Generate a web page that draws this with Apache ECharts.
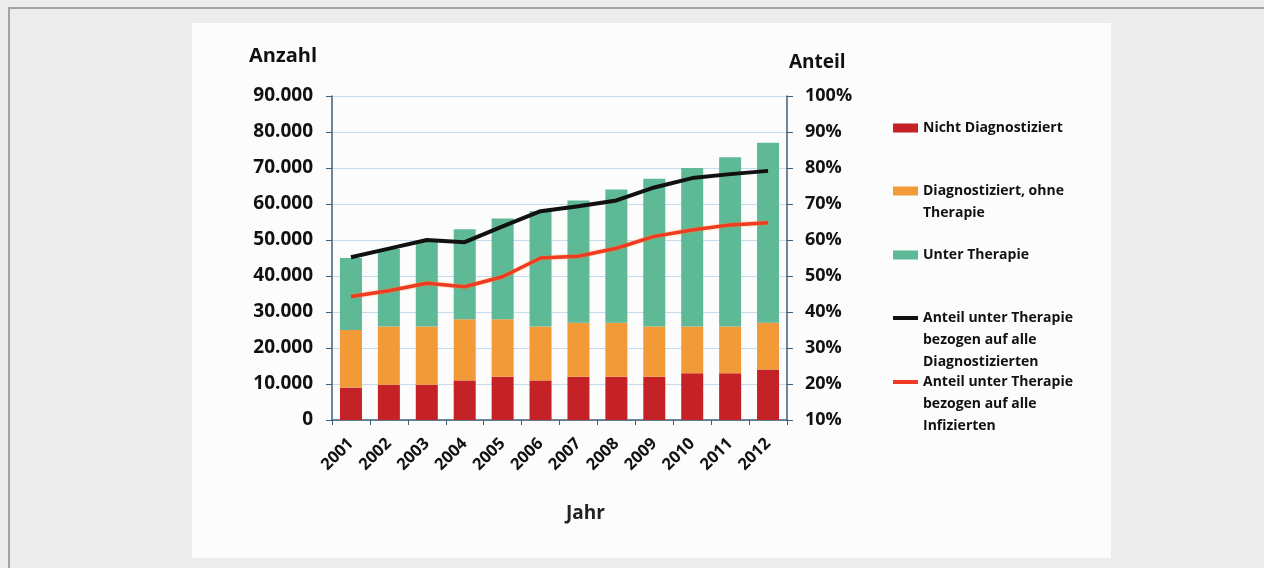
<!DOCTYPE html>
<html>
<head>
<meta charset="utf-8">
<script src="https://cdn.jsdelivr.net/npm/echarts@6/dist/echarts.min.js"></script>
<style>
  html, body { margin: 0; padding: 0; background: #ececec; }
  #frame { position: absolute; left: 8px; top: 7px; width: 1260px; height: 562px;
           border-left: 2px solid #a3a3a3; border-top: 2px solid #a3a3a3; }
  #main { position: absolute; left: 0; top: 0; width: 1264px; height: 568px; }
</style>
</head>
<body>
<div id="frame"></div>
<div id="main"></div>
<script>
// Daten
var jahre = ['2001','2002','2003','2004','2005','2006','2007','2008','2009','2010','2011','2012'];
var nichtDiagnostiziert = [9000, 9800, 9800, 11000, 12000, 11000, 12000, 12000, 12000, 13000, 13000, 14000];
var ohneTherapie = [16000, 16200, 16200, 17000, 16000, 15000, 15000, 15000, 14000, 13000, 13000, 13000];
var unterTherapie = [20000, 21500, 23800, 25000, 28000, 32000, 34000, 37000, 41000, 44000, 47000, 50000];
var anteilDiagnostiziert = [55.2, 57.6, 60, 59.4, 63.8, 68, 69.4, 71, 74.6, 77.2, 78.3, 79.2];
var anteilInfiziert = [44.3, 45.9, 48, 47, 49.8, 55, 55.5, 57.7, 61, 62.8, 64.2, 64.8];
var yLinks = [0, 90000, 10000];
var yRechts = [10, 100, 10];

var fontFam = '"Open Sans", Lato, sans-serif';
var axisCol = '#3e6079';
var gridCol = '#c5dbee';

function tausender(v) {
    return v === 0 ? '0' : (v / 1000).toFixed(0) + '.000';
}

// eine Legende pro Eintrag; Leerzeilen davor, damit das Symbol auf Hoehe der ersten Zeile sitzt
function legende(name, text, center, iconH) {
    var lh = 22;
    var lines = text.split('\n').length;
    var pad = '';
    for (var i = 1; i < lines; i++) pad += '\n';
    return {
        data: [name],
        left: 893,
        top: center - (2 * lines - 1) * lh / 2,
        padding: 0,
        orient: 'vertical',
        itemWidth: 25,
        itemHeight: iconH,
        icon: 'rect',
        selectedMode: false,
        formatter: function () { return pad + text; },
        textStyle: {
            fontFamily: fontFam, fontWeight: 'bold', fontSize: 14, color: '#111', lineHeight: lh
        }
    };
}

var myChart = echarts.init(document.getElementById('main'));
var option = {
    animation: false,
    graphic: [
        { type: 'rect', shape: { x: 192, y: 23, width: 919, height: 535 }, style: { fill: '#fbfcfb' }, z: -10 },
        { type: 'text', left: 249, top: 46, style: { text: 'Anzahl', font: 'bold 20px ' + fontFam, fill: '#111' } },
        { type: 'text', left: 789, top: 53, style: { text: 'Anteil', font: 'bold 19px ' + fontFam, fill: '#111' } },
        { type: 'text', left: 566, top: 504, style: { text: 'Jahr', font: 'bold 19px ' + fontFam, fill: '#222' } }
    ],
    grid: { left: 332, right: 477, top: 96, bottom: 148, containLabel: false },
    legend: [
        legende('Nicht Diagnostiziert', 'Nicht Diagnostiziert', 128, 9),
        legende('Diagnostiziert, ohne Therapie', 'Diagnostiziert, ohne\nTherapie', 191, 9),
        legende('Unter Therapie', 'Unter Therapie', 255, 9),
        legende('Anteil unter Therapie bezogen auf alle Diagnostizierten', 'Anteil unter Therapie\nbezogen auf alle\nDiagnostizierten', 318, 4),
        legende('Anteil unter Therapie bezogen auf alle Infizierten', 'Anteil unter Therapie\nbezogen auf alle\nInfizierten', 382, 4)
    ],
    xAxis: {
        type: 'category',
        data: jahre,
        axisLine: { lineStyle: { color: axisCol, width: 1.5 } },
        axisTick: { show: true, length: 5, lineStyle: { color: axisCol } },
        axisLabel: { rotate: 45, margin: 21, fontFamily: fontFam, fontWeight: 'bold', fontSize: 16.5, color: '#111' }
    },
    yAxis: [
        {
            type: 'value', min: yLinks[0], max: yLinks[1], interval: yLinks[2],
            axisLine: { show: true, lineStyle: { color: axisCol, width: 1.5 } },
            axisTick: { show: true, length: 6, lineStyle: { color: axisCol } },
            splitLine: { show: true, lineStyle: { color: gridCol, width: 1 } },
            axisLabel: { formatter: tausender, margin: 19, fontFamily: fontFam, fontWeight: 'bold', fontSize: 19, color: '#111' }
        },
        {
            type: 'value', min: yRechts[0], max: yRechts[1], interval: yRechts[2],
            axisLine: { show: true, lineStyle: { color: axisCol, width: 1.5 } },
            axisTick: { show: true, length: 6, lineStyle: { color: axisCol } },
            splitLine: { show: false },
            axisLabel: { formatter: '{value}%', margin: 18, fontFamily: fontFam, fontWeight: 'bold', fontSize: 18, color: '#111' }
        }
    ],
    series: [
        {
            name: 'Nicht Diagnostiziert', type: 'bar', stack: 'gesamt', barWidth: 22,
            itemStyle: { color: '#c42227' }, data: nichtDiagnostiziert
        },
        {
            name: 'Diagnostiziert, ohne Therapie', type: 'bar', stack: 'gesamt', barWidth: 22,
            itemStyle: { color: '#f39a38' }, data: ohneTherapie
        },
        {
            name: 'Unter Therapie', type: 'bar', stack: 'gesamt', barWidth: 22,
            itemStyle: { color: '#5db996' }, data: unterTherapie
        },
        {
            name: 'Anteil unter Therapie bezogen auf alle Diagnostizierten', type: 'line', yAxisIndex: 1,
            symbol: 'none', lineStyle: { color: '#111', width: 4 }, itemStyle: { color: '#111' },
            data: anteilDiagnostiziert
        },
        {
            name: 'Anteil unter Therapie bezogen auf alle Infizierten', type: 'line', yAxisIndex: 1,
            symbol: 'none', lineStyle: { color: '#ee3b22', width: 3.5, shadowColor: 'rgba(245,150,60,0.8)', shadowBlur: 2 },
            itemStyle: { color: '#ee3b22' },
            data: anteilInfiziert
        }
    ]
};
option && myChart.setOption(option);
</script>
</body>
</html>
